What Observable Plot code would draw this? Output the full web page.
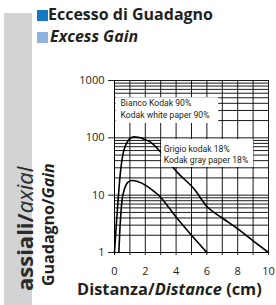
<!DOCTYPE html>
<html><head><meta charset="utf-8">
<script src="https://cdn.jsdelivr.net/npm/d3@7"></script>
<script src="https://cdn.jsdelivr.net/npm/@observablehq/plot@0.6"></script>
<style>
body{margin:0;background:#fff;}
#wrap{position:relative;width:276px;height:305px;overflow:hidden;font-family:"Open Sans",sans-serif;color:#231f20;}
#bar{position:absolute;left:4px;top:13px;width:28px;height:292px;background:#d1d3d4;}
.sq{position:absolute;left:37px;width:11px;height:11px;}
.t{position:absolute;font-weight:bold;font-size:16px;line-height:16px;white-space:nowrap;}
.rot{position:absolute;transform-origin:0 0;transform:rotate(-90deg);white-space:nowrap;}
#chart{position:absolute;left:0;top:0;}
</style></head>
<body>
<div id="wrap">
  <div id="bar"></div>
  <div id="chart"></div>
  <div class="sq" style="top:10px;background:#1479c2;"></div>
  <div class="t" style="left:48px;top:6px;">Eccesso di Guadagno</div>
  <div class="sq" style="top:32px;background:#8fb3df;"></div>
  <div class="t" style="left:50px;top:28px;font-style:italic;">Excess Gain</div>
  <div class="rot" style="left:13px;top:291px;font-size:22px;line-height:22px;color:#2b2b2b;"><b>assiali/</b><i>axial</i></div>
  <div class="rot" style="left:40px;top:286px;font-size:16px;line-height:16px;font-weight:bold;">Guadagno/<i>Gain</i></div>
  <div class="t" style="left:77px;top:281px;font-size:16.4px;">Distanza/<i>Distance</i> (cm)</div>
</div>
<script>
// Data
const whiteX = [0, 0.08, 0.17, 0.28, 0.39, 0.55, 0.72, 0.95, 1.26, 1.6, 2.0, 2.34, 3.0, 3.69, 4.08, 5.16, 6.03, 7.0, 7.98, 9.0, 10];
const whiteY = [1, 2.2, 4.8, 12, 26, 52, 74, 94, 104, 101, 93, 84, 56, 33, 25, 12.9, 6.2, 4.0, 2.6, 1.6, 1];
const grayX = [0.28, 0.35, 0.42, 0.5, 0.6, 0.72, 0.9, 1.15, 1.5, 2.0, 2.5, 3.0, 3.5, 4.08, 5.0, 6.0];
const grayY = [1, 2.5, 5, 8.6, 11.5, 14.5, 17, 18, 17.3, 15, 12, 9.2, 6.2, 3.9, 2.0, 1];
const xTicks = [0, 1, 2, 3, 4, 5, 6, 7, 8, 9, 10];
const yTicks = [1, 10, 100, 1000];
const yGrid = [1,2,3,4,5,6,7,8,9,10,20,30,40,50,60,70,80,90,100,200,300,400,500,600,700,800,900,1000];
const labelLines = [
  ["Bianco Kodak 90%", "Kodak white paper 90%"],
  ["Grigio kodak 18%", "Kodak gray paper 18%"]
];
// label boxes, in data units (cm, gain)
const labelBoxes = [
  {x1: 0.1, x2: 6.77, y1: 178, y2: 500, tx: 0.39, ty: [398, 255]},
  {x1: 3.06, x2: 9.04, y1: 30.4, y2: 93.5, tx: 3.19, ty: [65, 41.9]}
];

const white = whiteX.map((x, i) => ({x, y: whiteY[i]}));
const gray = grayX.map((x, i) => ({x, y: grayY[i]}));
const texts = labelBoxes.flatMap((b, i) => labelLines[i].map((t, j) => ({x: b.tx, y: b.ty[j], t})));

const chart = Plot.plot({
  width: 276, height: 305,
  marginLeft: 114, marginRight: 8, marginTop: 80, marginBottom: 53,
  style: {fontFamily: "Open Sans, sans-serif", fontSize: "11px", color: "#231f20", background: "transparent"},
  x: {domain: [0, 10]},
  y: {type: "log", domain: [1, 1000]},
  marks: [
    Plot.ruleY(yGrid, {stroke: "#000", strokeOpacity: 0.9, strokeWidth: 1}),
    Plot.ruleX(xTicks, {stroke: "#000", strokeOpacity: 0.9, strokeWidth: 1}),
    Plot.line(white, {x: "x", y: "y", curve: "monotone-x", stroke: "#000", strokeWidth: 1.6}),
    Plot.line(gray, {x: "x", y: "y", curve: "monotone-x", stroke: "#000", strokeWidth: 1.6}),
    Plot.rect(labelBoxes, {x1: "x1", x2: "x2", y1: "y1", y2: "y2", fill: "white"}),
    Plot.text(texts, {x: "x", y: "y", text: "t", textAnchor: "start", fontSize: 9.4, fontFamily: "Roboto, sans-serif", fill: "#231f20", className: "lbl"}),
    Plot.axisX({ticks: xTicks, tickFormat: d => d % 2 === 0 ? String(d) : "", tickSize: 3, tickPadding: 12, label: null}),
    Plot.axisY({ticks: yTicks, tickFormat: d => String(d), tickSize: 6, tickPadding: 4, label: null}),
    Plot.ruleX([0], {stroke: "#000"}),
    Plot.ruleY([1], {stroke: "#000"})
  ]
});
document.getElementById("chart").appendChild(chart);
// condense the annotation text to the narrow face of the original
const lbl = d3.select(chart).selectAll(".lbl text");
const ref = lbl.nodes().find(n => n.textContent === "Kodak white paper 90%");
const ratio = ref ? 89 / ref.getComputedTextLength() : 1;
lbl.each(function () {
  const L = this.getComputedTextLength();
  this.setAttribute("textLength", (L * ratio).toFixed(1));
  this.setAttribute("lengthAdjust", "spacingAndGlyphs");
});
</script>
</body></html>
